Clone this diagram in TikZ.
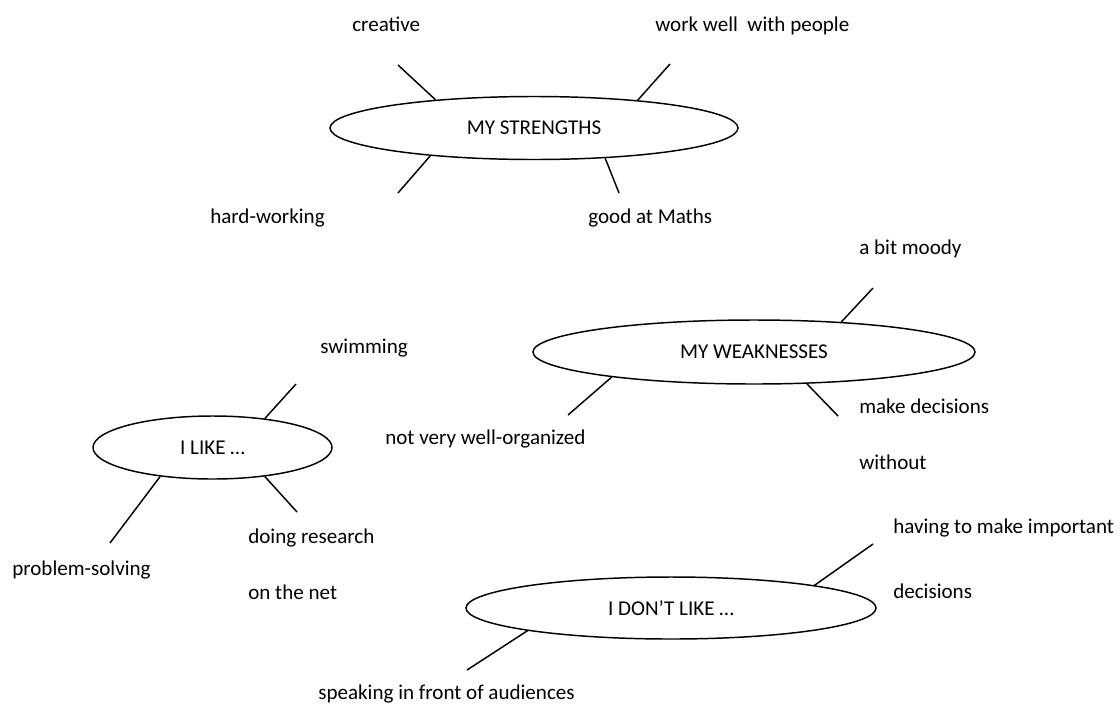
\documentclass[tikz,border=0pt]{standalone}
\usepackage{fontspec}
\setmainfont{Carlito}
\usepackage{tikz}
\usetikzlibrary{shapes.geometric}

\begin{document}
\begin{tikzpicture}[x=0.75pt, y=-0.75pt,
  font=\fontsize{15.8}{19}\selectfont,
  topic/.style={ellipse, draw, line width=1.1pt, inner sep=0pt},
  lbl/.style={anchor=base west, inner sep=0pt},
  spoke/.style={line width=1.1pt}]
 \useasboundingbox (0,0) rectangle (1120,704);
 % the four bubbles
 \node [topic, minimum width=306pt,   minimum height=47.25pt] (strengths)  at (534,128)   {MY STRENGTHS};
 \node [topic, minimum width=331.5pt, minimum height=48pt]    (weaknesses) at (754,352)   {MY WEAKNESSES};
 \node [topic, minimum width=179.25pt,minimum height=47.25pt] (like)       at (212.5,447.5) {I LIKE …};
 \node [topic, minimum width=307.5pt, minimum height=46.5pt]  (dislike)    at (671,608)   {I DON’T LIKE …};
 % words round them
 \node [lbl] (creative)    at (352,31)  {creative};
 \node [lbl] (people)      at (655,31)  {work well~ with people};
 \node [lbl] (hardworking) at (210,223) {hard-working};
 \node [lbl] (maths)       at (588,223) {good at Maths};
 \node [lbl] (moody)       at (859,254) {a bit moody};
 \node [lbl] (organized)   at (385,444) {not very well-organized};
 \node [lbl] (decide)      at (859,413) {make decisions};
 \node [lbl] (without)     at (859,469) {without};
 \node [lbl] (swimming)    at (320,353) {swimming};
 \node [lbl] (research)    at (248,543) {doing research};
 \node [lbl] (net)         at (248,599) {on the net};
 \node [lbl] (problem)     at (12,575)  {problem-solving};
 \node [lbl] (important)   at (893,533) {having to make important};
 \node [lbl] (decisions)   at (893,598) {decisions};
 \node [lbl] (speaking)    at (318,699) {speaking in front of audiences};
 % free ends of the spokes
 \coordinate (creativeend)    at (398,65);
 \coordinate (peopleend)      at (670,64);
 \coordinate (hardworkingend) at (398,193);
 \coordinate (mathsend)       at (619,193);
 \coordinate (moodyend)       at (873,288);
 \coordinate (organizedend)   at (568,415);
 \coordinate (decideend)      at (838,416);
 \coordinate (swimmingend)    at (296,384);
 \coordinate (researchend)    at (297,512);
 \coordinate (problemend)     at (110,543);
 \coordinate (importantend)   at (873,544);
 \coordinate (speakingend)    at (467,670);
  \draw [spoke] (strengths.164) -- (creativeend);
  \draw [spoke] (strengths.15) -- (peopleend);
  \draw [spoke] (strengths.195) -- (hardworkingend);
  \draw [spoke] (strengths.337) -- (mathsend);
  \draw [spoke] (weaknesses.19) -- (moodyend);
  \draw [spoke] (weaknesses.190) -- (organizedend);
  \draw [spoke] (weaknesses.329) -- (decideend);
  \draw [spoke] (like.29) -- (swimmingend);
  \draw [spoke] (like.331) -- (researchend);
  \draw [spoke] (like.209) -- (problemend);
  \draw [spoke] (dislike.9) -- (importantend);
  \draw [spoke] (dislike.189) -- (speakingend);
\end{tikzpicture}
\end{document}
